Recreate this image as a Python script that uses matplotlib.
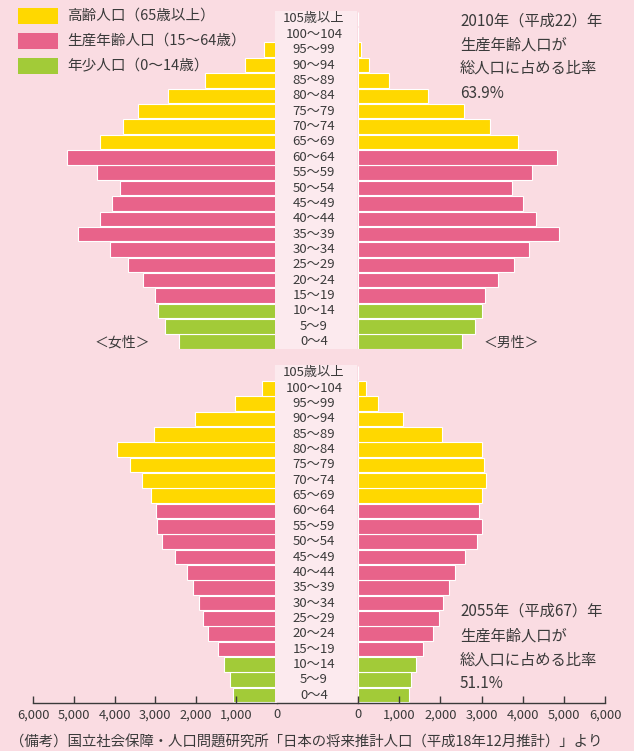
import matplotlib
matplotlib.use("Agg")
import matplotlib.pyplot as plt
import matplotlib.transforms as mtransforms
from matplotlib.patches import Rectangle
from matplotlib.lines import Line2D
from matplotlib.ticker import FuncFormatter

plt.rcParams['font.family'] = ['Noto Sans CJK JP', 'DejaVu Sans']

# 年齢階級（若い順）
ages = ["0～4", "5～9", "10～14", "15～19", "20～24", "25～29", "30～34",
        "35～39", "40～44", "45～49", "50～54", "55～59", "60～64", "65～69",
        "70～74", "75～79", "80～84", "85～89", "90～94", "95～99",
        "100～104", "105歳以上"]

# 人口（千人）
female_2010 = [2420, 2750, 2930, 3000, 3310, 3660, 4120, 4890, 4370, 4060, 3870,
               4430, 5160, 4350, 3780, 3420, 2690, 1770, 800, 310, 60, 10]
male_2010 = [2520, 2850, 3020, 3090, 3410, 3790, 4160, 4880, 4330, 4000, 3750,
             4230, 4830, 3880, 3210, 2580, 1710, 760, 275, 80, 10, 1]
female_2055 = [1090, 1150, 1300, 1460, 1710, 1830, 1930, 2060, 2220, 2500, 2820,
               2960, 2970, 3100, 3330, 3610, 3930, 3030, 2030, 1030, 370, 40]
male_2055 = [1230, 1290, 1420, 1590, 1820, 1970, 2060, 2200, 2350, 2610, 2900,
             3000, 2930, 3020, 3100, 3070, 3000, 2050, 1100, 475, 185, 5]

legend_labels = ["高齢人口（65歳以上）", "生産年齢人口（15～64歳）", "年少人口（0～14歳）"]
xticks = [0, 1000, 2000, 3000, 4000, 5000, 6000]

BG = "#fadce2"
BOX = "#fceaee"
YELLOW = "#ffd800"
PINK = "#e8638a"
GREEN = "#a2cb38"
TXT = "#3a3a3a"

def age_color(i):
    if i < 3:
        return GREEN
    if i < 13:
        return PINK
    return YELLOW

colors = [age_color(i) for i in range(len(ages))]

W, H = 634, 751
fig = plt.figure(figsize=(W / 100, H / 100), dpi=100, facecolor=BG)

def px_axes(x0, y0, x1, y1):
    ax = fig.add_axes([x0 / W, 1 - y1 / H, (x1 - x0) / W, (y1 - y0) / H])
    ax.patch.set_visible(False)
    return ax

def box(x0, y0, x1, y1, color):
    fig.patches.append(Rectangle((x0 / W, 1 - y1 / H), (x1 - x0) / W, (y1 - y0) / H,
                                 transform=fig.transFigure, facecolor=color,
                                 edgecolor="none", zorder=0))

panels = [(11.3, 349.4, female_2010, male_2010, False),
          (365.3, 702.7, female_2055, male_2055, True)]

ypos = list(range(len(ages)))
for top, bottom, fem, mal, show_x in panels:
    box(275, top, 357, bottom, BOX)
    axl = px_axes(33.3, top, 277, bottom)
    axr = px_axes(358, top, 605, bottom)
    axl.barh(ypos, fem, height=0.94, color=colors, edgecolor="white", linewidth=0.8)
    axr.barh(ypos, mal, height=0.94, color=colors, edgecolor="white", linewidth=0.8)
    axl.set_xlim(6000, 0)
    axr.set_xlim(0, 6000)
    for ax in (axl, axr):
        ax.set_ylim(-0.5, len(ages) - 0.5)
        ax.set_yticks([])
        for s in ("top", "left", "right"):
            ax.spines[s].set_visible(False)
        if show_x:
            ax.spines["bottom"].set_color(TXT)
            ax.spines["bottom"].set_linewidth(1)
            ax.set_xticks(xticks)
            ax.xaxis.set_major_formatter(FuncFormatter(lambda v, p: f"{int(v):,}"))
            ax.tick_params(axis="x", direction="in", length=5, width=1, color=TXT,
                           labelsize=9.3, labelcolor=TXT, pad=4)
        else:
            ax.spines["bottom"].set_visible(False)
            ax.set_xticks([])
    tr = mtransforms.blended_transform_factory(fig.transFigure, axr.transData)
    for i, lab in enumerate(ages):
        fig.text(314 / W, i, lab, transform=tr, ha="center", va="center",
                 fontsize=9.5, color=TXT)

# 横軸をつなぐ線
fig.add_artist(Line2D([277 / W, 358 / W], [1 - 702.7 / H, 1 - 702.7 / H],
                      transform=fig.transFigure, color=TXT, linewidth=1))

# 凡例
for (yc, lab, c) in zip([16, 41, 66], legend_labels, [YELLOW, PINK, GREEN]):
    box(18, yc - 8, 58, yc + 8, c)
    fig.text(67 / W, 1 - yc / H, lab, ha="left", va="center", fontsize=10.5, color=TXT)

# 注記
notes = [(["2010年（平成22）年", "生産年齢人口が", "総人口に占める比率", "63.9%"],
          [21, 45, 68, 93]),
         (["2055年（平成67）年", "生産年齢人口が", "総人口に占める比率", "51.1%"],
          [611, 636, 660, 683])]
for lines, ys in notes:
    for t, y in zip(lines, ys):
        fig.text(460 / W, 1 - y / H, t, ha="left", va="center", fontsize=11, color=TXT)

fig.text(122 / W, 1 - 343 / H, "＜女性＞", ha="center", va="center", fontsize=10, color=TXT)
fig.text(511 / W, 1 - 343 / H, "＜男性＞", ha="center", va="center", fontsize=10, color=TXT)

fig.text(10 / W, 1 - 743 / H,
         "（備考）国立社会保障・人口問題研究所「日本の将来推計人口（平成18年12月推計）」より",
         ha="left", va="center", fontsize=10.4, color=TXT)

fig.savefig("out.png", dpi=100, facecolor=BG)
